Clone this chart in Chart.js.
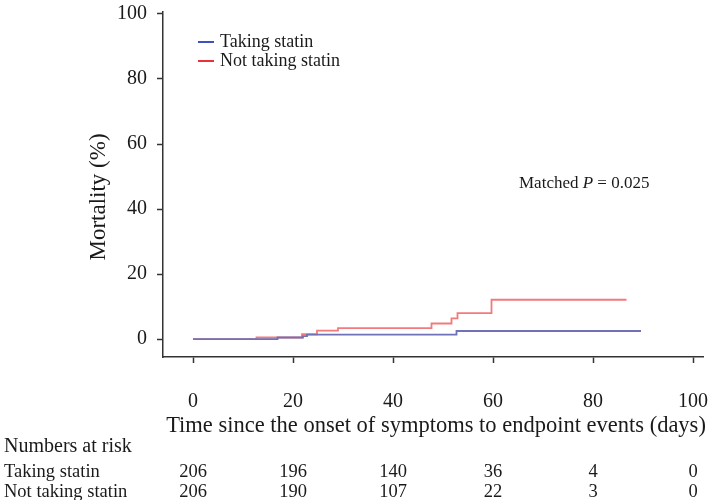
<!DOCTYPE html>
<html>
<head>
<meta charset="utf-8">
<script src="https://cdn.jsdelivr.net/npm/chart.js@4.4.1/dist/chart.umd.min.js"></script>
<style>
    html, body { margin: 0; padding: 0; background: #fff; }
    #wrap { width: 711px; height: 500px; position: relative; }
</style>
</head>
<body>
<div id="wrap"><canvas id="kmChart" width="711" height="500"></canvas></div>
<script>
// Kaplan-Meier steps (days, mortality %)
const statinDays = [0, 16.9, 22, 22.8, 52.7, 89.6];
const statinMortality = [0, 0.5, 0.9, 1.4, 2.5, 2.5];
const noStatinDays = [0, 12.7, 21.8, 24.8, 29, 47.7, 51.7, 52.9, 59.7, 86.7];
const noStatinMortality = [0, 0.5, 1.5, 2.6, 3.4, 4.8, 6.4, 8.0, 12.1, 12.1];

const seriesNames = ['Taking statin', 'Not taking statin'];
const xTicks = [0, 20, 40, 60, 80, 100];
const yTicks = [0, 20, 40, 60, 80, 100];

// Numbers at risk table
const riskTimes = [0, 20, 40, 60, 80, 100];
const riskStatin = [206, 196, 140, 36, 4, 0];
const riskNoStatin = [206, 190, 107, 22, 3, 0];

const SERIF = '"Liberation Serif", "Times New Roman", serif';
const TEXT = '#1a1a1a';

const toPoints = (xs, ys) => xs.map((d, i) => ({ x: d, y: ys[i] }));

// draws legend, axis titles, p value and risk table
const kmText = {
    id: 'kmText',
    afterDraw(chart) {
        const { ctx, scales: { x } } = chart;
        ctx.save();
        ctx.fillStyle = TEXT;

        // legend
        const legend = [
            { name: seriesNames[0], color: '#3f51c0', y: 42 },
            { name: seriesNames[1], color: '#e8323c', y: 61 }
        ];
        ctx.font = '18px ' + SERIF;
        ctx.textBaseline = 'middle';
        ctx.textAlign = 'left';
        legend.forEach(l => {
            ctx.strokeStyle = l.color;
            ctx.lineWidth = 2;
            ctx.beginPath();
            ctx.moveTo(198, l.y);
            ctx.lineTo(214, l.y);
            ctx.stroke();
            ctx.fillText(l.name, 220, l.y);
        });

        // p value
        ctx.font = '17px ' + SERIF;
        let px = 519;
        ctx.fillText('Matched ', px, 184);
        px += ctx.measureText('Matched ').width;
        ctx.font = 'italic 17px ' + SERIF;
        ctx.fillText('P', px, 184);
        px += ctx.measureText('P').width;
        ctx.font = '17px ' + SERIF;
        ctx.fillText(' = 0.025', px, 184);

        // y axis title
        ctx.save();
        ctx.font = '23px ' + SERIF;
        ctx.translate(99, 197);
        ctx.rotate(-Math.PI / 2);
        ctx.textAlign = 'center';
        ctx.fillText('Mortality (%)', 0, 0);
        ctx.restore();

        // x axis title
        ctx.font = '22.5px ' + SERIF;
        ctx.textAlign = 'center';
        ctx.fillText('Time since the onset of symptoms to endpoint events (days)', 436, 426);

        // numbers at risk
        ctx.textAlign = 'left';
        ctx.font = '20px ' + SERIF;
        ctx.fillText('Numbers at risk', 4, 447);
        ctx.font = '18.5px ' + SERIF;
        ctx.fillText(seriesNames[0], 4, 472);
        ctx.fillText(seriesNames[1], 4, 492);
        ctx.textAlign = 'center';
        riskTimes.forEach((t, i) => {
            const cx = x.getPixelForValue(t);
            ctx.fillText(String(riskStatin[i]), cx, 472);
            ctx.fillText(String(riskNoStatin[i]), cx, 492);
        });
        ctx.restore();
    }
};

new Chart(document.getElementById('kmChart').getContext('2d'), {
    type: 'line',
    data: {
        datasets: [
            {
                label: seriesNames[0],
                data: toPoints(statinDays, statinMortality),
                borderColor: '#7072b8',
                borderWidth: 1.8,
                stepped: true,
                pointRadius: 0,
                fill: false
            },
            {
                label: seriesNames[1],
                data: toPoints(noStatinDays, noStatinMortality),
                borderColor: '#f37a7c',
                borderWidth: 1.8,
                stepped: true,
                pointRadius: 0,
                fill: false
            }
        ]
    },
    options: {
        responsive: false,
        animation: false,
        layout: { padding: { top: 12, right: 8, left: 0, bottom: 0 } },
        plugins: { legend: { display: false }, tooltip: { enabled: false } },
        scales: {
            x: {
                type: 'linear',
                min: -6,
                max: 102,
                afterBuildTicks: s => { s.ticks = xTicks.map(v => ({ value: v })); },
                afterFit: s => {
                    s.height = 143;
                    s.paddingLeft = 0;
                    s.paddingRight = 0;
                },
                grid: { drawOnChartArea: false, tickLength: 6, color: '#333', tickWidth: 1.5 },
                border: { color: '#333', width: 1.5 },
                ticks: { font: { family: SERIF, size: 20 }, color: TEXT, padding: 27, maxRotation: 0 }
            },
            y: {
                min: -5.5,
                max: 100.6,
                afterBuildTicks: s => { s.ticks = yTicks.map(v => ({ value: v })); },
                afterFit: s => {
                    s.width = 163;
                    s.paddingTop = 0;
                    s.paddingBottom = 0;
                },
                grid: { drawOnChartArea: false, tickLength: 6, color: '#333', tickWidth: 1.5 },
                border: { color: '#333', width: 1.5 },
                ticks: { font: { family: SERIF, size: 20 }, color: TEXT, padding: 10 }
            }
        }
    },
    plugins: [kmText]
});
</script>
</body>
</html>
